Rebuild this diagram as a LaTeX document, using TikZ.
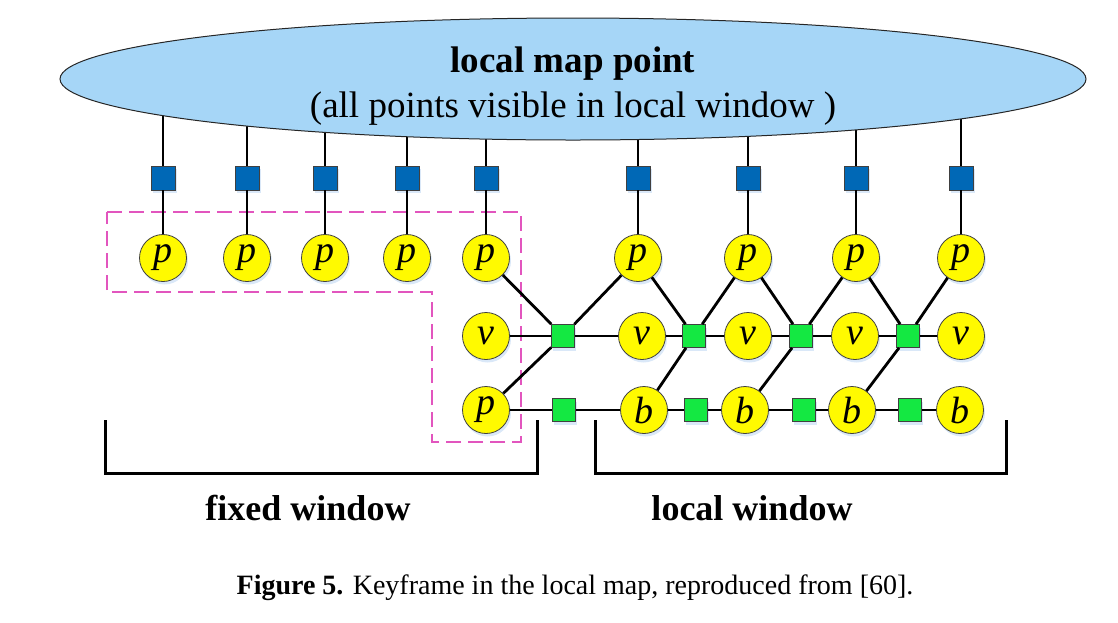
\documentclass[tikz,border=0pt]{standalone}
\usepackage{fontspec}
\setmainfont{Liberation Serif}
\usetikzlibrary{shapes.geometric,shadows}
\pgfdeclarelayer{background}
\pgfsetlayers{background,main}
\definecolor{ellfill}{RGB}{166,214,247}
\definecolor{sqblue}{RGB}{0,104,182}
\definecolor{sqgreen}{RGB}{20,232,66}
\definecolor{nodeyellow}{RGB}{255,250,0}
\definecolor{dashpink}{RGB}{226,85,190}
\definecolor{shade}{RGB}{150,190,235}
\tikzset{
  vnode/.style={circle, draw=black!75, line width=0.8pt, fill=nodeyellow, minimum size=47pt, inner sep=0pt,
    font=\fontsize{38}{38}\selectfont\itshape,
    drop shadow={shadow xshift=1.5pt, shadow yshift=-3pt, opacity=0.35, fill=shade}},
  bluesq/.style={rectangle, draw=black!75, line width=0.7pt, fill=sqblue, minimum size=24pt, inner sep=0pt,
    drop shadow={shadow xshift=1.5pt, shadow yshift=-3pt, opacity=0.35, fill=shade}},
  greensq/.style={rectangle, draw=black!75, line width=0.7pt, fill=sqgreen, minimum size=23pt, inner sep=0pt,
    drop shadow={shadow xshift=1.5pt, shadow yshift=-3pt, opacity=0.35, fill=shade}},
  link/.style={line width=2.8pt, black},
  bracket/.style={line width=3pt, black},
  fence/.style={line width=2.8pt, dashpink, dash pattern=on 15pt off 7pt},
  biglabel/.style={font=\fontsize{36}{36}\selectfont\bfseries}
}
\begin{document}
\begin{tikzpicture}[x=1pt,y=-1pt]
\useasboundingbox (0,0) rectangle (1118,622);

% ellipse
\node[ellipse, draw=black!85, line width=1pt, fill=ellfill, minimum width=1026pt, minimum height=122pt,
      inner sep=0pt] (ell) at (573,79) {};
\node[align=center, font=\fontsize{37}{45}\selectfont] (ellt) at (573,86)
      {\textbf{local map point}\\(all points visible in local window )};

% blue squares
\foreach \i/\x in {1/163,2/247,3/325,4/407,5/486,6/638,7/748,8/856,9/961}
  \node[bluesq] (s\i) at (\x,178) {};

% top row p
\foreach \i/\x in {1/163,2/247,3/325,4/407,5/486,6/638,7/748,8/856,9/961}
  \node[vnode] (p\i) at (\x,258) {p};

% v row
\node[vnode] (v5) at (486,336) {v};
\foreach \i/\x in {6/642,7/748,8/855,9/961}
  \node[vnode] (v\i) at (\x,336) {v};

% bottom row
\node[vnode] (pb) at (486,410) {p};
\foreach \i/\x in {6/644,7/745,8/852,9/960}
  \node[vnode] (b\i) at (\x,410) {b};

% green squares
\foreach \i/\x in {1/563,2/694,3/801,4/908}
  \node[greensq] (g\i) at (\x,336) {};
\foreach \i/\x in {1/564,2/696,3/804,4/910}
  \node[greensq] (h\i) at (\x,410) {};

\begin{pgfonlayer}{background}
  % dashed fixed region
  \draw[fence] (107,212) -- (521,212) -- (521,442) -- (432,442) -- (432,292) -- (107,292) -- cycle;
  % lines into ellipse
  \foreach \i in {1,...,9}
    \draw[link] (s\i.center) -- (s\i.center |- ell.center);
\end{pgfonlayer}

% square to p
\foreach \i in {1,...,9}
  \draw[link] (s\i) -- (p\i);

% middle factors
\draw[link] (p5) -- (g1);
\draw[link] (v5) -- (g1);
\draw[link] (pb) -- (g1);
\draw[link] (g1) -- (p6);
\draw[link] (g1) -- (v6);

\draw[link] (p6) -- (g2);
\draw[link] (v6) -- (g2);
\draw[link] (g2) -- (p7);
\draw[link] (g2) -- (v7);
\draw[link] (b6) -- (g2);

\draw[link] (p7) -- (g3);
\draw[link] (v7) -- (g3);
\draw[link] (g3) -- (p8);
\draw[link] (g3) -- (v8);
\draw[link] (b7) -- (g3);

\draw[link] (p8) -- (g4);
\draw[link] (v8) -- (g4);
\draw[link] (g4) -- (p9);
\draw[link] (g4) -- (v9);
\draw[link] (b8) -- (g4);

% bottom chain
\draw[link] (pb) -- (h1);
\draw[link] (h1) -- (b6);
\draw[link] (b6) -- (h2);
\draw[link] (h2) -- (b7);
\draw[link] (b7) -- (h3);
\draw[link] (h3) -- (b8);
\draw[link] (b8) -- (h4);
\draw[link] (h4) -- (b9);

% brackets
\draw[bracket] (105,420) -- (105,473) -- (537,473) -- (537,420);
\draw[bracket] (595,420) -- (595,473) -- (1006,473) -- (1006,420);

\node[biglabel] (fw) at (308,508) {fixed window};
\node[biglabel] (lw) at (752,508) {local window};

\node[font=\fontsize{28}{28}\selectfont] (cap) at (575,588) {\textbf{Figure 5.} Keyframe in the local map, reproduced from [60].};
\end{tikzpicture}
\end{document}
